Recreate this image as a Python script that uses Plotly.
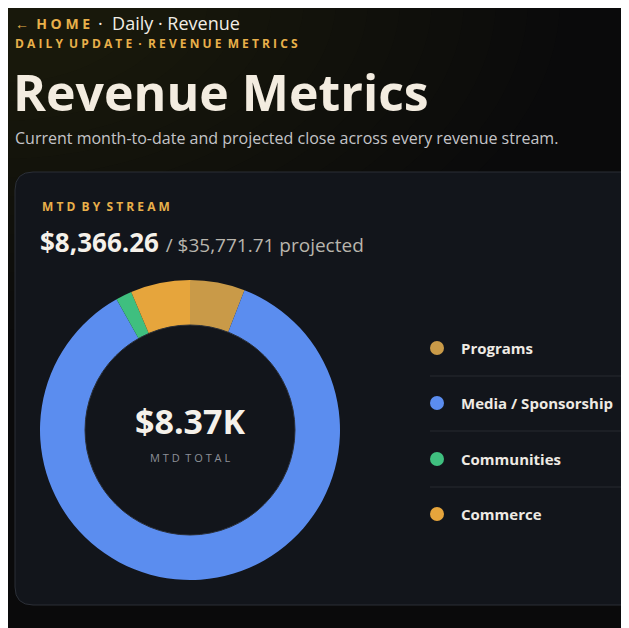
import plotly.graph_objects as go

W, H = 629, 628
OFF = 8  # page body margin

streams = ["Programs", "Media / Sponsorship", "Communities", "Commerce"]
mtd_values = [495.0, 7190.0, 145.0, 536.26]
colors = ["#c99a48", "#5b8def", "#3fbf7f", "#e6a53c"]
mtd_total_label = "$8,366.26"
projected_label = "$35,771.71"
center_label = "$8.37K"


def px(x):
    return (x - OFF) / W


def py(y):
    return 1 - (y - OFF) / H


fig = go.Figure()

# donut
fig.add_trace(go.Pie(
    labels=streams, values=mtd_values, hole=0.7, sort=False, direction="clockwise",
    rotation=0, marker=dict(colors=colors, line=dict(width=0)),
    textinfo="none", hoverinfo="label+value", showlegend=False,
    domain=dict(x=[px(40), px(340)], y=[py(580), py(280)]),
))

shapes = []
# warm glow in top-left
for k in range(14):
    rx = 560 - k * 32
    ry = 330 - k * 19
    shapes.append(dict(type="circle", xref="paper", yref="paper",
                       x0=px(-rx), x1=px(rx), y0=py(ry), y1=py(-ry),
                       fillcolor="#5e421a", opacity=0.022, line_width=0, layer="below"))

# card (rounded rectangle)
x0, y0, x1, y1, r = px(15), py(172), px(650), py(605), 18
rx_, ry_ = r / W, r / H
path = (f"M {x0+rx_},{y0} L {x1},{y0} L {x1},{y1} L {x0+rx_},{y1} "
        f"Q {x0},{y1} {x0},{y1+ry_} L {x0},{y0-ry_} Q {x0},{y0} {x0+rx_},{y0} Z")
shapes.append(dict(type="path", xref="paper", yref="paper", path=path,
                   fillcolor="#12151b", line=dict(color="#2b2f37", width=1), layer="below"))

# inner ring outline
shapes.append(dict(type="circle", xref="paper", yref="paper",
                   x0=px(85), x1=px(295), y0=py(535), y1=py(325),
                   line=dict(color="#2a2f38", width=1), fillcolor="rgba(0,0,0,0)", layer="above"))

annotations = []


def txt(x, y, text, size, color, bold=False, anchor="left", family="Open Sans"):
    annotations.append(dict(
        xref="paper", yref="paper", x=px(x), y=py(y), text=f"<b>{text}</b>" if bold else text,
        showarrow=False, xanchor=anchor, yanchor="middle",
        font=dict(size=size, color=color, family=family)))


gold = "#e8b04a"
txt(13, 23, "←  H O M E", 14, gold, bold=True)
txt(96, 23, "·  Daily · Revenue", 18, "#f1ede6")
txt(13, 43, "D A I L Y  U P D A T E  ·  R E V E N U E  M E T R I C S", 12, gold, bold=True)
txt(11, 92, "Revenue Metrics", 50, "#f3ece0", bold=True)
txt(13, 138, "Current month-to-date and projected close across every revenue stream.", 16, "#c4c4c8")

txt(40, 206, "M T D  B Y  S T R E A M", 12, gold, bold=True)
txt(38, 242, f"<b>{mtd_total_label}</b> <span style='font-size:19px;color:#b9b5ad'>/ {projected_label} projected</span>",
    26, "#f5f1ea")

txt(190, 421, center_label, 34, "#f5f1ea", bold=True, anchor="center")
txt(190, 457, "M T D  T O T A L", 11, "#8d9098", anchor="center")

# legend rows
row_y = [348, 403, 459, 514]
for name, col, y in zip(streams, colors, row_y):
    shapes.append(dict(type="circle", xref="paper", yref="paper",
                       x0=px(430), x1=px(444), y0=py(y + 7), y1=py(y - 7),
                       fillcolor=col, line_width=0))
    txt(459, y, name, 15, "#eeeae3", bold=True)
for y in row_y[:-1]:
    sy = y + 28
    shapes.append(dict(type="line", xref="paper", yref="paper",
                       x0=px(430), x1=px(650), y0=py(sy), y1=py(sy),
                       line=dict(color="#262a31", width=1)))

fig.update_layout(
    width=W, height=H, margin=dict(l=0, r=0, t=0, b=0),
    paper_bgcolor="#0a0a0b", plot_bgcolor="#0a0a0b",
    shapes=shapes, annotations=annotations,
)

fig.write_html("out.html", config={"displayModeBar": False})
